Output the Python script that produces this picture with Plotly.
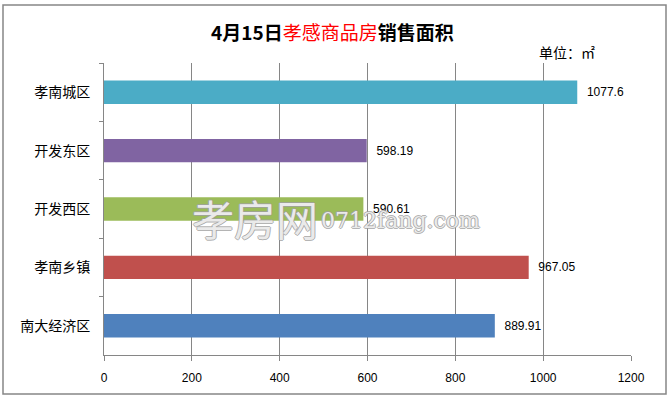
import plotly.graph_objects as go

categories = ["孝南城区", "开发东区", "开发西区", "孝南乡镇", "南大经济区"]
values = [1077.6, 598.19, 590.61, 967.05, 889.91]
value_labels = ["1077.6", "598.19", "590.61", "967.05", "889.91"]
colors = ["#4BACC6", "#8064A2", "#9BBB59", "#C0504D", "#4F81BD"]
x_ticks = [0, 200, 400, 600, 800, 1000, 1200]

W, H = 671, 399
L, R, T, B = 104, 40, 63, 44
pw, ph = W - L - R, H - T - B

def px(x):
    return (x - L) / pw

def py(y):
    return (H - B - y) / ph

num_font = "Liberation Sans Narrow, Arial Narrow, Liberation Sans, sans-serif"
cjk_font = "Noto Sans CJK SC, sans-serif"

fig = go.Figure(go.Bar(
    y=categories, x=values, orientation="h",
    marker=dict(color=colors, line=dict(width=0)),
    width=0.4,
    text=value_labels, textposition="outside",
    texttemplate="\u00a0\u00a0%{text}",
    textfont=dict(family=num_font, size=12, color="#000000"),
    cliponaxis=False,
))

fig.update_layout(
    width=W, height=H,
    margin=dict(l=L, r=R, t=T, b=B, autoexpand=False),
    paper_bgcolor="white", plot_bgcolor="white",
    showlegend=False,
    xaxis=dict(range=[0, 1200], tickvals=x_ticks, showgrid=True, gridcolor="#868686",
               gridwidth=1, zeroline=False, showline=True, linecolor="#868686",
               ticks="outside", ticklen=5, tickcolor="#868686",
               tickfont=dict(family=num_font, size=12, color="#000000"),
               ticklabelstandoff=7, fixedrange=True, automargin=False),
    yaxis=dict(autorange="reversed", showline=True, linecolor="#868686",
               ticks="outside", ticklen=4, tickcolor="#868686", tickson="boundaries",
               showgrid=False,
               tickfont=dict(family=cjk_font, size=14, color="#000000"),
               ticklabelstandoff=10, fixedrange=True, automargin=False),
    bargap=0.6,
)

# chart border
fig.add_shape(type="rect", xref="paper", yref="paper",
              x0=px(3), x1=px(666), y0=py(394), y1=py(5),
              line=dict(color="#868686", width=1.5), layer="below")

# title
fig.add_annotation(xref="paper", yref="paper", x=px(332), y=py(31),
                   showarrow=False, xanchor="center", yanchor="middle",
                   text="<b>4月15日</b><span style='color:#FF0000'>孝感商品房</span><b>销售面积</b>",
                   font=dict(family=cjk_font, size=19, color="#000000"))
fig.add_annotation(xref="paper", yref="paper", x=px(537), y=py(52),
                   showarrow=False, xanchor="left", yanchor="middle",
                   text="单位：㎡",
                   font=dict(family=cjk_font, size=14, color="#000000"))

# watermark
shadow = "1px 0 0 #a0a0a0, -1px 0 0 #a0a0a0, 0 1px 0 #a0a0a0, 0 -1px 0 #a0a0a0"
fig.add_annotation(xref="paper", yref="paper", x=px(190), y=py(217),
                   showarrow=False, xanchor="left", yanchor="middle",
                   text="孝房网",
                   font=dict(family=cjk_font, size=42, color="rgba(255,255,255,0.8)", shadow=shadow))
fig.add_annotation(xref="paper", yref="paper", x=px(319), y=py(221),
                   showarrow=False, xanchor="left", yanchor="middle",
                   text="0712fang.com",
                   font=dict(family="DejaVu Serif, serif", size=22, color="rgba(255,255,255,0.8)", shadow=shadow))

fig.write_html("out.html", config={"displayModeBar": False},
               post_script="document.body.style.margin='0';document.body.style.overflow='hidden';")
